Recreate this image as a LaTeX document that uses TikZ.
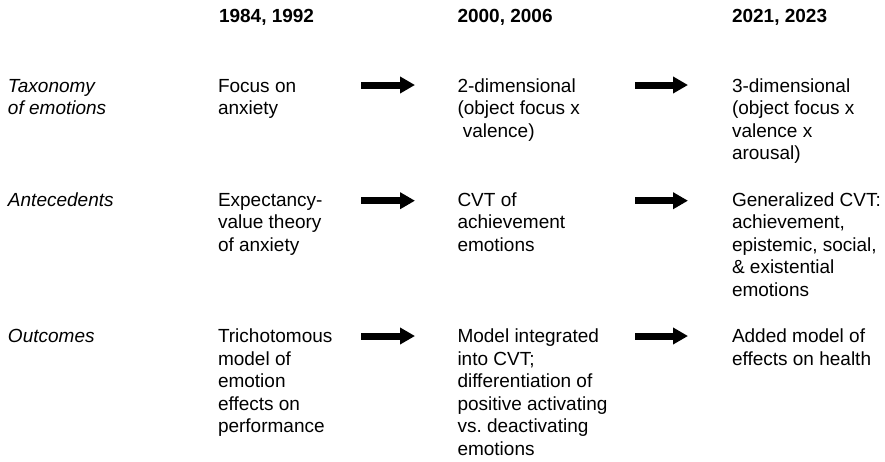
\documentclass[tikz,border=0pt]{standalone}
\usepackage{fontspec}
\setmainfont{Liberation Sans}
\usetikzlibrary{arrows.meta}
\frenchspacing
\newcommand\cellrows[1]{\begin{tabular}[t]{@{}l@{}}#1\end{tabular}}
\begin{document}
\begin{tikzpicture}[x=1pt,y=-1pt,
  cell/.style={anchor=base west, inner sep=0pt, outer sep=0pt, font=\fontsize{19}{22.5}\selectfont},
  headcell/.style={cell, font=\fontsize{19}{22.5}\selectfont\bfseries},
  rowlab/.style={cell, font=\fontsize{19}{22.5}\selectfont\itshape},
  bigarrow/.style={line width=7pt, -{Triangle[length=15pt,width=16pt]}}]
\useasboundingbox (0,0) rectangle (885,461);
% headers
\node[headcell] (h1) at (219,22) {1984, 1992};
\node[headcell] (h2) at (457.5,22) {2000, 2006};
\node[headcell] (h3) at (732,22) {2021, 2023};
% row 1
\node[rowlab] (l1) at (8,92) {\cellrows{Taxonomy\\of emotions}};
\node[cell] (c11) at (218,92) {\cellrows{Focus on\\anxiety}};
\node[cell] (c12) at (457.5,92) {\cellrows{2-dimensional\\(object focus x\\\ valence)}};
\node[cell] (c13) at (732,92) {\cellrows{3-dimensional\\(object focus x\\valence x\\arousal)}};
% row 2
\node[rowlab] (l2) at (8,206) {\cellrows{Antecedents}};
\node[cell] (c21) at (218,206) {\cellrows{Expectancy-\\value theory\\of anxiety}};
\node[cell] (c22) at (457.5,206) {\cellrows{CVT of\\achievement\\emotions}};
\node[cell] (c23) at (732,206) {\cellrows{Generalized CVT:\\achievement,\\epistemic, social,\\\& existential\\emotions}};
% row 3
\node[rowlab] (l3) at (8,342.5) {\cellrows{Outcomes}};
\node[cell] (c31) at (218,342.5) {\cellrows{Trichotomous\\model of\\emotion\\effects on\\performance}};
\node[cell] (c32) at (457.5,342.5) {\cellrows{Model integrated\\into CVT;\\differentiation of\\positive activating\\vs.\ deactivating\\emotions}};
\node[cell] (c33) at (732,342.5) {\cellrows{Added model of\\effects on health}};
% arrows
\coordinate (a11) at (361,85);   \coordinate (a12) at (415,85);
\coordinate (a13) at (635,85);   \coordinate (a14) at (688,85);
\coordinate (a21) at (361,200.7); \coordinate (a22) at (415,200.7);
\coordinate (a23) at (635,200.7); \coordinate (a24) at (688,200.7);
\coordinate (a31) at (361,336);  \coordinate (a32) at (415,336);
\coordinate (a33) at (635,336);  \coordinate (a34) at (688,336);
\draw[bigarrow] (a11) -- (a12);
\draw[bigarrow] (a13) -- (a14);
\draw[bigarrow] (a21) -- (a22);
\draw[bigarrow] (a23) -- (a24);
\draw[bigarrow] (a31) -- (a32);
\draw[bigarrow] (a33) -- (a34);
\end{tikzpicture}
\end{document}
